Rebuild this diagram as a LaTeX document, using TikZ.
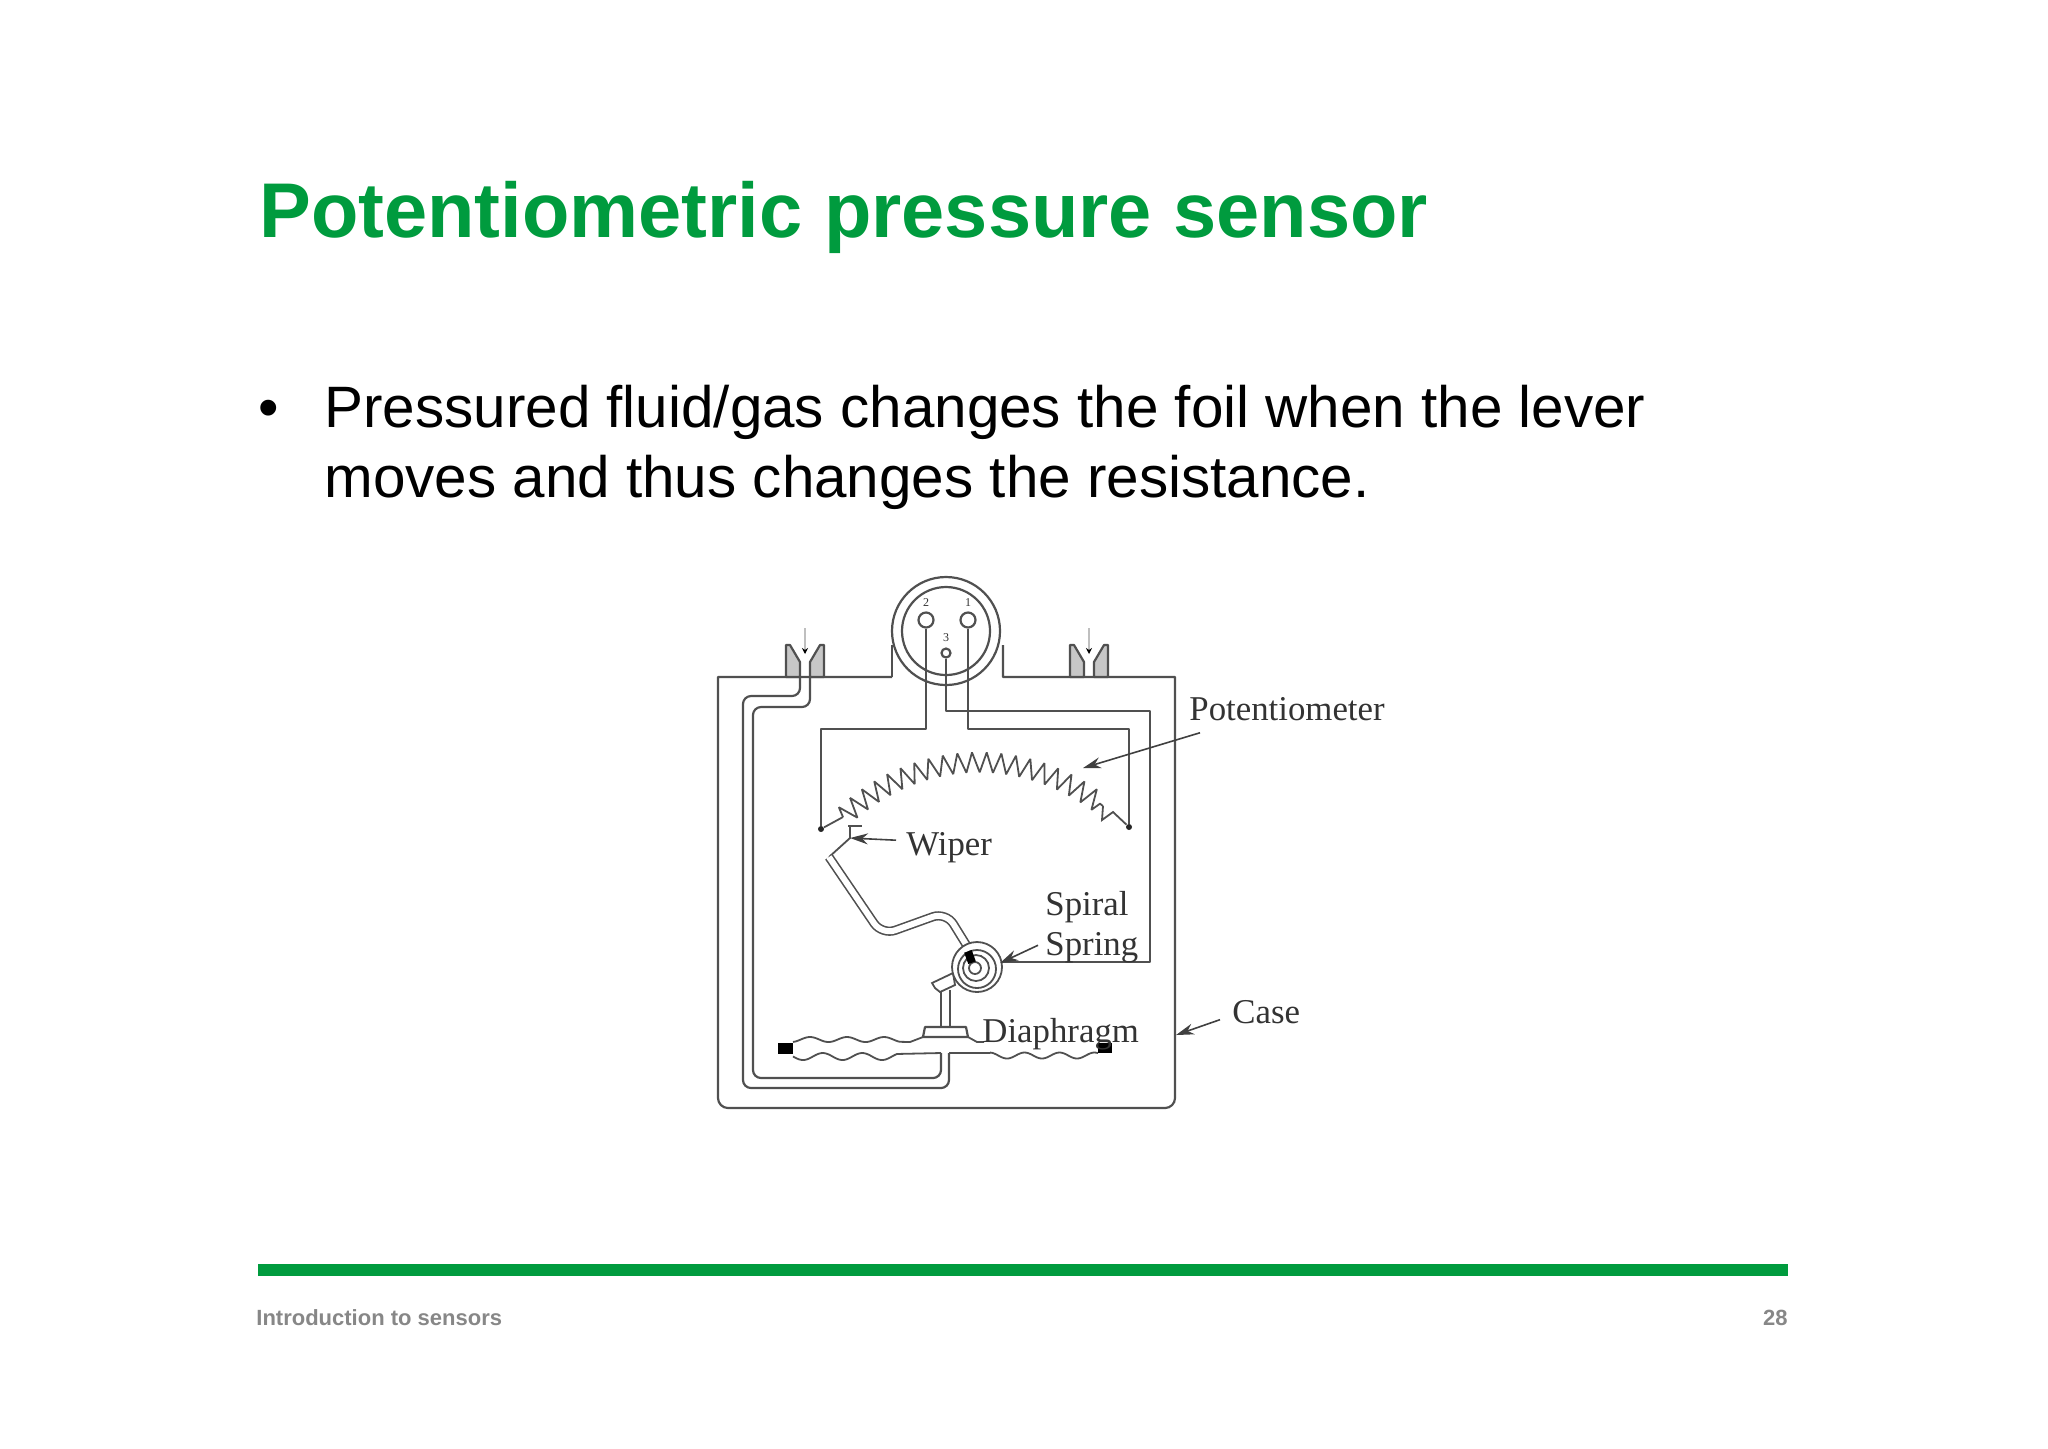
\documentclass[tikz,border=0pt]{standalone}
\usepackage{fontspec}
\setmainfont{Liberation Sans}
\newfontfamily\labelfont{Liberation Serif}
\usetikzlibrary{arrows.meta,decorations.pathmorphing}
\definecolor{slidegreen}{RGB}{0,155,62}
\definecolor{footgray}{RGB}{135,135,135}
\definecolor{linegray}{RGB}{80,80,80}
\tikzstyle{wire}=[draw=linegray,line width=1.1pt,line join=round]
\tikzstyle{tube}=[draw=linegray,line width=1.1pt,rounded corners=4pt]
\tikzstyle{thin wire}=[draw=linegray,line width=0.9pt]
\tikzstyle{nozzle}=[draw=linegray,line width=1.1pt,fill=black!22,line join=round]
\tikzstyle{terminal}=[circle,draw=linegray,line width=1.1pt,fill=white,inner sep=0pt]
\tikzstyle{tinylabel}=[font=\labelfont\fontsize{6}{6}\selectfont,text=black!80,inner sep=0pt]
\tikzstyle{partlabel}=[font=\labelfont\fontsize{17.4}{17.4}\selectfont,text=black!80,inner sep=0pt,anchor=base west]
\tikzstyle{pointer}=[draw=black!75,line width=0.8pt,-{Stealth[length=9pt,width=5.5pt]}]
\tikzstyle{solder}=[circle,fill=black!85,minimum size=3pt,inner sep=0pt]

\begin{document}
\begin{tikzpicture}[x=0.5pt,y=-0.5pt]

    \useasboundingbox (0,0) rectangle (2048,1448);

    % slide text
    \node[anchor=base west,inner sep=0pt,text=slidegreen,font=\bfseries\fontsize{38.8}{38.8}\selectfont] (title) at (259,237.5) {Potentiometric pressure sensor};
    \node[anchor=base west,inner sep=0pt,font=\fontsize{29.2}{29.2}\selectfont] (bullet) at (258,427.5) {\textbullet};
    \node[anchor=base west,inner sep=0pt,font=\fontsize{29.2}{29.2}\selectfont] (lineone) at (324,427.5) {Pressured fluid/gas changes the foil when the lever};
    \node[anchor=base west,inner sep=0pt,font=\fontsize{29.2}{29.2}\selectfont] (linetwo) at (324,497.5) {moves and thus changes the resistance.};
    \fill[slidegreen] (258,1264) rectangle (1788,1276);
    \node[anchor=base west,inner sep=0pt,text=footgray,font=\bfseries\fontsize{11}{11}\selectfont] (foot) at (256,1325) {Introduction to sensors};
    \node[anchor=base east,inner sep=0pt,text=footgray,font=\bfseries\fontsize{11}{11}\selectfont] (page) at (1788,1325) {28};

    % case and connector head
    \draw[wire] (892,677) -- (718,677) [rounded corners=5pt] -- (718,1108) -- (1175,1108) [sharp corners] -- (1175,677) -- (1003,677) -- (1003,645);
    \draw[wire] (892,677) -- (892,645);
    \draw[wire,fill=white] (946,631) circle[radius=54];
    \draw[wire] (946,631) circle[radius=44];

    % nozzles
    \foreach \shift in {0,284}
    {
        \draw[nozzle,xshift=\shift*0.5pt] (786,677) -- (786,645) -- (790,645) -- (800,662) -- (800,677) -- cycle;
        \draw[nozzle,xshift=\shift*0.5pt] (824,677) -- (824,645) -- (820,645) -- (810,662) -- (810,677) -- cycle;
    }
    \foreach \nx/\name in {805/inleft,1089/inright}
    {
        \coordinate (\name top) at (\nx,628);
        \coordinate (\name tip) at (\nx,654);
        \draw[draw=black!25,line width=0.6pt,-{Stealth[length=3pt,width=3pt,black]}] (\name top) -- (\name tip);
    }

    % wires to the terminals
    \foreach \pos/\name/\size/\num/\numpos in {{(926,620)/ttwo/7.5pt/2/(926,603)},{(968,620)/tone/7.5pt/1/(968,603)},{(946,653)/tthree/4.5pt/3/(946,638)}}
    {
        \node[terminal,minimum size=\size] (\name) at \pos {};
        \node[tinylabel] (\name num) at \numpos {\num};
    }
    \node[solder] (dotl) at (821,829) {};
    \node[solder] (dotr) at (1129,827) {};
    \coordinate (springin) at (1000,962);
    \draw[wire] (ttwo) -- (926,729) -- (821,729) -- (dotl);
    \draw[wire] (tone) -- (968,729) -- (1129,729) -- (dotr);
    \draw[wire] (tthree) -- (946,711) -- (1150,711) -- (1150,962) -- (springin);

    % pressure tube
    \draw[tube] (800,677) -- (800,696) -- (743,696) -- (743,1088) -- (949,1088) -- (949,1053);
    \draw[tube] (810,677) -- (810,707) -- (753,707) -- (753,1078) -- (941,1078) -- (941,1053);

    % coil
    \coordinate (coilleft) at (843,817);
    \coordinate (coilright) at (1103,806);
    \draw[thin wire,line join=bevel,decorate,decoration={zigzag,segment length=7pt,amplitude=5pt}] (coilleft) to[bend left=40] (coilright);
    \draw[thin wire] (dotl) -- (coilleft);
    \draw[thin wire] (coilright) -- (1102,820) -- (1113,812) -- (dotr);

    % wiper and lever
    \coordinate (wipertip) at (850,838);
    \coordinate (wiperfoot) at (829,857);
    \draw[thin wire] (wiperfoot) -- (wipertip) -- (850,826);
    \draw[thin wire] (848,826) -- (862,826);
    \draw[draw=linegray,line width=0.8pt,double=white,double distance=3pt,rounded corners=7pt] (wiperfoot) -- (882,935) -- (946,912) -- (967,946);

    % diaphragm
    \draw[thin wire] plot[domain=793:900,samples=70] (\x,{1039.5-2.5*cos((\x-810)/37*360)}) -- (910,1042) -- (923,1037);
    \draw[thin wire] plot[domain=793:897,samples=70] (\x,{1056.5+3.5*cos((\x-803)/39.5*360)}) -- (941,1053);
    \draw[thin wire] (968,1037) -- (977,1042) -- (984,1042);
    \draw[thin wire] (949,1053) -- (990,1053) plot[domain=990:1098,samples=70] (\x,{1055.5+3*cos((\x-1007)/35*360)});
    \fill[black] (778,1043) rectangle (793,1054);
    \fill[black] (1098,1043) rectangle (1112,1053);
    \draw[wire,fill=white] (923,1037) -- (925,1027) -- (966,1027) -- (968,1037) -- cycle;
    \draw[thin wire] (941,1027) -- (941,992);
    \draw[thin wire] (950,1027) -- (950,990);
    \draw[thin wire,fill=white] (932,983) -- (953,973) -- (955,985) -- (940,992) -- (935,988) -- cycle;

    % spiral spring
    \foreach \cx/\cy/\rad in {977/967/25,977/969/19,976/968/13,975/968/6}
        \draw[thin wire,fill=white] (\cx,\cy) circle[radius=\rad];
    \fill[black,rotate around={20:(970,957)}] (966,951) rectangle (974,963);

    % labels and pointers
    \foreach \pos/\name/\txt in {{(1189,720)/potlabel/Potentiometer},{(906,855)/wiperlabel/Wiper},{(1045,915)/spirallabel/Spiral},{(1045,955)/springlabel/Spring},{(982,1042)/diaphragmlabel/Diaphragm},{(1232,1023)/caselabel/Case}}
        \node[partlabel] (\name) at \pos {\txt};

    \coordinate (pottip) at (1083,768);
    \coordinate (springtip) at (1000,963);
    \coordinate (casetip) at (1176,1035);
    \draw[pointer] ([xshift=5.5pt,yshift=-6pt]potlabel.south west) -- (pottip);
    \draw[pointer] ([xshift=-5pt,yshift=3.5pt]wiperlabel.west) -- (wipertip);
    \draw[pointer] ([xshift=-3.5pt,yshift=1pt]springlabel.west) -- (springtip);
    \draw[pointer] ([xshift=-6pt,yshift=-4pt]caselabel.west) -- (casetip);

\end{tikzpicture}
\end{document}
